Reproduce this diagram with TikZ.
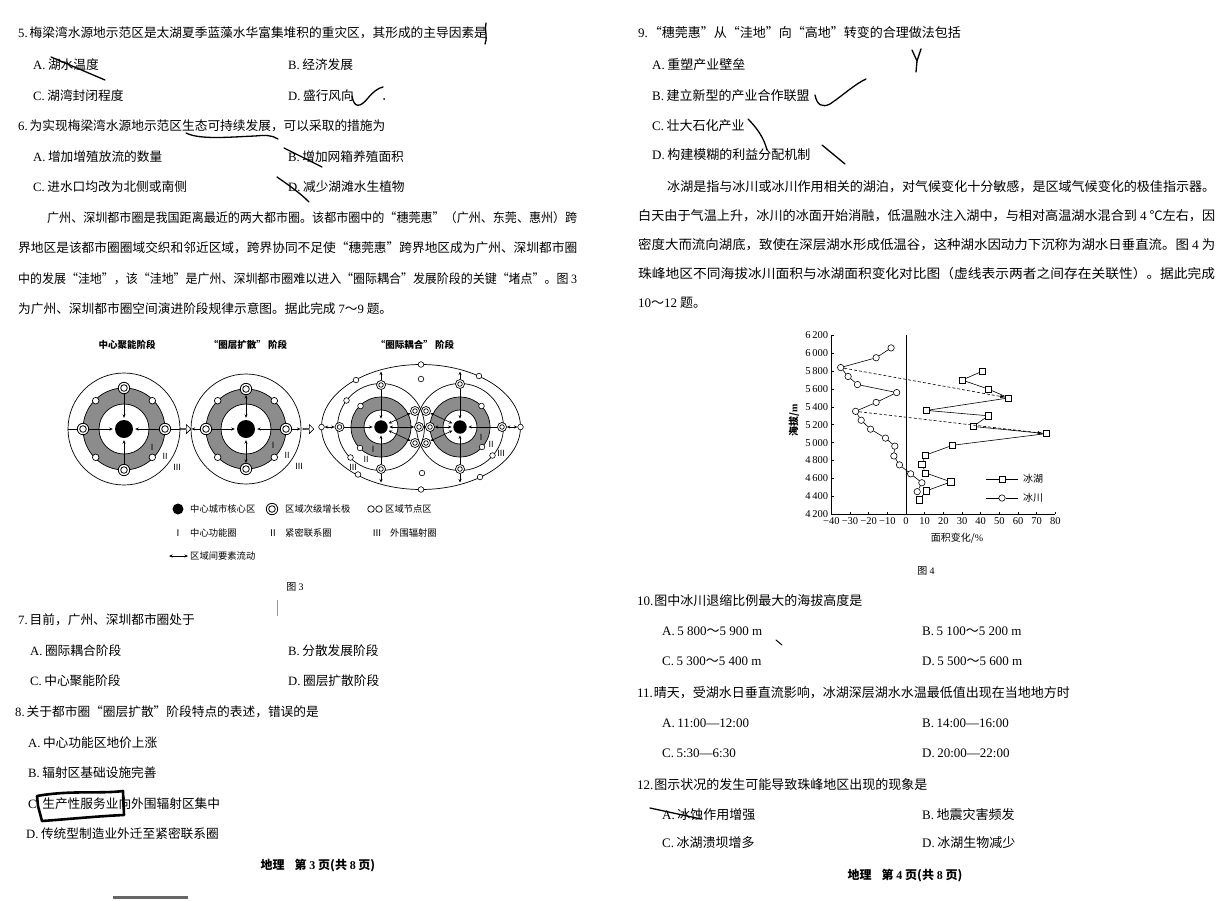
\documentclass[tikz,border=0pt]{standalone}
\usepackage{fontspec}
\usepackage{graphicx}
\setmainfont{Noto Sans CJK SC}
\newfontfamily\lat{Liberation Serif}
\usetikzlibrary{arrows.meta,shapes.arrows}
\newcommand\LL[1]{{\lat #1}}
\newcommand\opt[2]{\LL{#1.}\hspace{2.5pt}#2}
\newcommand\fitw[2]{\resizebox{#1pt}{\height}{#2}}
\begin{document}
\begin{tikzpicture}[x=1pt,y=-1pt,
 txt/.style={anchor=west,inner sep=0pt,font=\fontsize{12.7}{15}\selectfont},
 txr/.style={anchor=west,inner sep=0pt,font=\fontsize{13}{15}\selectfont},
 leg/.style={anchor=west,inner sep=0pt,font=\fontsize{9.3}{11}\selectfont},
 ttl/.style={inner sep=0pt,font=\fontsize{9.5}{11}\selectfont\bfseries},
 rom/.style={inner sep=0pt,font=\fontsize{8.5}{9}\selectfont},
 foot/.style={inner sep=0pt,font=\fontsize{12}{14}\selectfont\bfseries},
 core/.style={circle,fill=black,inner sep=0pt,minimum size=18pt},
 core3/.style={circle,fill=black,inner sep=0pt,minimum size=13.4pt},
 pole/.style={circle,draw,fill=white,inner sep=0pt,minimum size=11.4pt,line width=0.8pt,
   path picture={\draw[line width=0.8pt] (path picture bounding box.center) circle (3.3pt);}},
 pole3/.style={circle,draw,fill=white,inner sep=0pt,minimum size=9pt,line width=0.7pt,
   path picture={\draw[line width=0.7pt] (path picture bounding box.center) circle (2.3pt);}},
 nd/.style={circle,draw,fill=white,inner sep=0pt,minimum size=6.6pt,line width=0.7pt},
 nd3/.style={circle,draw,fill=white,inner sep=0pt,minimum size=5.6pt,line width=0.6pt},
 arr/.style={line width=0.6pt,-{Stealth[length=3.5pt,width=3pt]}},
 darr/.style={line width=0.6pt,{Stealth[length=3.5pt,width=3pt]}-{Stealth[length=3.5pt,width=3pt]}},
 ring/.style={line width=0.7pt},
 ringfill/.style={fill=black!45},
 hol/.style={single arrow,draw,fill=white,line width=0.6pt,minimum height=11pt,minimum width=9pt,single arrow head extend=1.8pt,inner sep=0pt},
 pen/.style={line width=1.3pt,line cap=round,line join=round},
 gm/.style={circle,draw,fill=white,inner sep=0pt,minimum size=6.4pt,line width=0.6pt},
 lm/.style={rectangle,draw,fill=white,inner sep=0pt,minimum size=6.2pt,line width=0.6pt},
 tick/.style={inner sep=0pt,font=\lat\fontsize{10.5}{12}\selectfont},
 clab/.style={inner sep=0pt,font=\fontsize{10}{12}\selectfont}
]
\useasboundingbox[fill=white] (0,0) rectangle (1231,900);

%================ LEFT COLUMN TEXT =================
\node[txt] (q5) at (18,33) {\LL{5.}\hspace{2pt}梅梁湾水源地示范区是太湖夏季蓝藻水华富集堆积的重灾区，其形成的主导因素是};
\node[txt] (q5a) at (33,65) {\opt{A}{湖水温度}};
\node[txt] (q5b) at (288,65) {\opt{B}{经济发展}};
\node[txt] (q5c) at (33,96) {\opt{C}{湖湾封闭程度}};
\node[txt] (q5d) at (288,96) {\opt{D}{盛行风向}};
\node[txt] (q6) at (18,126) {\LL{6.}\hspace{2pt}为实现梅梁湾水源地示范区生态可持续发展，可以采取的措施为};
\node[txt] (q6a) at (33,157) {\opt{A}{增加增殖放流的数量}};
\node[txt] (q6b) at (288,157) {\opt{B}{增加网箱养殖面积}};
\node[txt] (q6c) at (33,187) {\opt{C}{进水口均改为北侧或南侧}};
\node[txt] (q6d) at (288,187) {\opt{D}{减少湖滩水生植物}};
\node[txt] (p1) at (47,218) {\fitw{530}{广州、深圳都市圈是我国距离最近的两大都市圈。该都市圈中的“穗莞惠”（广州、东莞、惠州）跨}};
\node[txt] (p2) at (18,248) {\fitw{559}{界地区是该都市圈圈域交织和邻近区域，跨界协同不足使“穗莞惠”跨界地区成为广州、深圳都市圈}};
\node[txt] (p3) at (18,279) {\fitw{559}{中的发展“洼地”，该“洼地”是广州、深圳都市圈难以进入“圈际耦合”发展阶段的关键“堵点”。图 \LL{3}}};
\node[txt] (p4) at (18,309) {为广州、深圳都市圈空间演进阶段规律示意图。据此完成 \LL{7}～\LL{9} 题。};

%================ FIGURE 3 =================
\node[ttl] (t1) at (127,345) {中心聚能阶段};
\node[ttl] (t2) at (248,345) {“圈层扩散” 阶段};
\node[ttl] (t3) at (415,345) {“圈际耦合” 阶段};

% stage 1
\draw[ring] (124,429) circle (56pt);
\fill[ringfill,even odd rule] (124,429) circle (41pt) circle (25pt);
\draw[ring] (124,429) circle (41pt);
\draw[ring] (124,429) circle (25pt);
\node[core] (c1) at (124,429) {};
\node[pole] (p1t) at (124,388) {};
\node[pole] (p1b) at (124,470) {};
\node[pole] (p1l) at (83,429) {};
\node[pole] (p1r) at (165,429) {};
\node[nd] (n1a) at (95.7,400.7) {};
\node[nd] (n1b) at (152.3,400.7) {};
\node[nd] (n1c) at (95.7,457.3) {};
\node[nd] (n1d) at (152.3,457.3) {};
\coordinate (o1l) at (68,429);
\coordinate (o1r) at (180,429);
\draw[arr,shorten >=2pt] (p1t) -- (c1);
\draw[arr,shorten >=2pt] (p1b) -- (c1);
\draw[arr,shorten >=2pt] (p1l) -- (c1);
\draw[arr,shorten >=2pt] (p1r) -- (c1);
\draw[line width=0.6pt] (o1l) -- (p1l);
\draw[line width=0.6pt] (p1r) -- (o1r);
\node[rom] (r1a) at (152,447) {Ⅰ};
\node[rom] (r1b) at (165,456) {Ⅱ};
\node[rom] (r1c) at (177,467) {Ⅲ};

\node[hol] (ha1) at (185,429) {};

% stage 2
\draw[ring] (246,429) circle (55pt);
\fill[ringfill,even odd rule] (246,429) circle (40pt) circle (25pt);
\draw[ring] (246,429) circle (40pt);
\draw[ring] (246,429) circle (25pt);
\node[core] (c2) at (246,429) {};
\node[pole] (p2t) at (246,389) {};
\node[pole] (p2b) at (246,469) {};
\node[pole] (p2l) at (206,429) {};
\node[pole] (p2r) at (286,429) {};
\node[nd] (n2a) at (217.7,400.7) {};
\node[nd] (n2b) at (274.3,400.7) {};
\node[nd] (n2c) at (217.7,457.3) {};
\node[nd] (n2d) at (274.3,457.3) {};
\coordinate (o2l) at (191.5,429);
\coordinate (o2r) at (300.5,429);
\draw[darr,shorten >=2pt] (p2t) -- (c2);
\draw[darr,shorten >=2pt] (p2b) -- (c2);
\draw[arr,shorten >=2pt] (p2l) -- (c2);
\draw[arr,shorten >=2pt] (p2r) -- (c2);
\draw[arr] (p2l) -- (o2l);
\draw[arr] (p2r) -- (o2r);
\node[rom] (r2a) at (273,445) {Ⅰ};
\node[rom] (r2b) at (287,455) {Ⅱ};
\node[rom] (r2c) at (299,466) {Ⅲ};

\node[hol] (ha2) at (308,429) {};

% stage 3
\draw[ring] (421,427) ellipse [x radius=99.5pt,y radius=62.5pt];
\fill[ringfill,even odd rule] (381,427) circle (30pt) circle (17pt);
\fill[ringfill,even odd rule] (460,427) circle (30pt) circle (17pt);
\draw[ring] (381,427) circle (30pt);
\draw[ring] (381,427) circle (17pt);
\draw[ring] (460,427) circle (30pt);
\draw[ring] (460,427) circle (17pt);
\draw[ring] (381,427) circle (43.5pt);
\draw[ring] (460,427) circle (43.5pt);
\node[core3] (c3a) at (381,427) {};
\node[core3] (c3b) at (460,427) {};
\node[pole3] (p3at) at (381,385) {};
\node[pole3] (p3ab) at (381,469) {};
\node[pole3] (p3al) at (339.5,427) {};
\node[pole3] (p3bt) at (460,384) {};
\node[pole3] (p3bb) at (460,469) {};
\node[pole3] (p3br) at (502,427) {};
\node[pole3] (k1) at (415,411) {};
\node[pole3] (k2) at (426,411) {};
\node[pole3] (k3) at (419,427) {};
\node[pole3] (k4) at (430,427) {};
\node[pole3] (k5) at (415,443) {};
\node[pole3] (k6) at (426,443) {};
\node[nd3] (m1) at (321.5,427) {};
\node[nd3] (m2) at (421,364.5) {};
\node[nd3] (m3) at (520.5,427) {};
\node[nd3] (m4) at (421,489.5) {};
\node[nd3] (m5) at (356,380) {};
\node[nd3] (m6) at (479,376) {};
\node[nd3] (m7) at (358,474.5) {};
\node[nd3] (m8) at (480,477) {};
\node[nd3] (m9) at (421,379) {};
\node[nd3] (m10) at (422,473) {};
\node[nd3] (m11) at (346.5,400.5) {};
\node[nd3] (m12) at (350.5,457.5) {};
\node[nd3] (m13) at (492.5,455.5) {};
\node[nd3] (m14) at (360.5,406) {};
\node[nd3] (m15) at (360,448) {};
\node[nd3] (m16) at (481.5,406) {};
\node[nd3] (m17) at (482,447) {};
\coordinate (e1) at (381,371.5);
\coordinate (e2) at (381,482.5);
\coordinate (e3) at (460,371.5);
\coordinate (e4) at (460,482.5);
% left core flows
\draw[darr] (m1) -- (p3al);
\draw[arr,shorten >=1.5pt] (p3al) -- (c3a);
\draw[arr,shorten >=1.5pt] (p3at) -- (c3a);
\draw[arr] (p3at) -- (e1);
\draw[arr,shorten >=1.5pt] (p3ab) -- (c3a);
\draw[arr] (p3ab) -- (e2);
\draw[darr,shorten <=1.5pt] (c3a) -- (k3);
\draw[darr,shorten <=1.5pt] (c3a) -- (k1);
\draw[darr,shorten <=1.5pt] (c3a) -- (k5);
% right core flows
\draw[darr] (m3) -- (p3br);
\draw[arr,shorten >=1.5pt] (p3br) -- (c3b);
\draw[arr,shorten >=1.5pt] (p3bt) -- (c3b);
\draw[arr] (p3bt) -- (e3);
\draw[arr,shorten >=1.5pt] (p3bb) -- (c3b);
\draw[arr] (p3bb) -- (e4);
\draw[darr,shorten <=1.5pt] (c3b) -- (k4);
\draw[darr,shorten <=1.5pt] (c3b) -- (k2);
\draw[darr,shorten <=1.5pt] (c3b) -- (k6);
\node[rom] (r3a) at (373,449) {Ⅰ};
\node[rom] (r3b) at (366,459) {Ⅱ};
\node[rom] (r3c) at (353,467) {Ⅲ};
\node[rom] (r3d) at (481,437) {Ⅰ};
\node[rom] (r3e) at (491,444) {Ⅱ};
\node[rom] (r3f) at (501,453) {Ⅲ};

% legend
\node[circle,fill=black,inner sep=0pt,minimum size=11pt] (lg1) at (178,509) {};
\node[leg] (lg1t) at (190,509) {中心城市核心区};
\node[pole] (lg2) at (272,509) {};
\node[leg] (lg2t) at (285,509) {区域次级增长极};
\node[nd] (lg3a) at (371,509) {};
\node[nd] (lg3b) at (379,509) {};
\node[leg] (lg3t) at (385,509) {区域节点区};
\node[leg,anchor=center] (lg4) at (178,533) {Ⅰ};
\node[leg] (lg4t) at (190,533) {中心功能圈};
\node[leg,anchor=center] (lg5) at (273,533) {Ⅱ};
\node[leg] (lg5t) at (285,533) {紧密联系圈};
\node[leg,anchor=center] (lg6) at (377,533) {Ⅲ};
\node[leg] (lg6t) at (390,533) {外围辐射圈};
\coordinate (lg7a) at (169,556);
\coordinate (lg7b) at (188,556);
\draw[darr] (lg7a) -- (lg7b);
\node[leg] (lg7t) at (190,556) {区域间要素流动};
\node[clab] (f3) at (295,587) {图 \LL{3}};

%================ LEFT LOWER QUESTIONS =================
\node[txt] (q7) at (18,620) {\LL{7.}\hspace{2pt}目前，广州、深圳都市圈处于};
\node[txt] (q7a) at (30,651) {\opt{A}{圈际耦合阶段}};
\node[txt] (q7b) at (288,651) {\opt{B}{分散发展阶段}};
\node[txt] (q7c) at (30,681) {\opt{C}{中心聚能阶段}};
\node[txt] (q7d) at (288,681) {\opt{D}{圈层扩散阶段}};
\node[txt] (q8) at (15,712) {\LL{8.}\hspace{2pt}关于都市圈“圈层扩散”阶段特点的表述，错误的是};
\node[txt] (q8a) at (28,743) {\opt{A}{中心功能区地价上涨}};
\node[txt] (q8b) at (28,773) {\opt{B}{辐射区基础设施完善}};
\node[txt] (q8c) at (28,804) {\opt{C}{生产性服务业向外围辐射区集中}};
\node[txt] (q8d) at (26,834) {\opt{D}{传统型制造业外迁至紧密联系圈}};
\node[foot] (ft3) at (318,866) {地理\hspace{10pt}第 \LL{\bfseries 3} 页(共 \LL{\bfseries 8} 页)};

%================ RIGHT COLUMN TEXT =================
\node[txr] (q9) at (638,33) {\LL{9.}\hspace{1pt}“穗莞惠”从“洼地”向“高地”转变的合理做法包括};
\node[txr] (q9a) at (652,65) {\opt{A}{重塑产业壁垒}};
\node[txr] (q9b) at (652,96) {\opt{B}{建立新型的产业合作联盟}};
\node[txr] (q9c) at (652,126) {\opt{C}{壮大石化产业}};
\node[txr] (q9d) at (652,155) {\opt{D}{构建模糊的利益分配机制}};
\node[txr] (r1) at (667,187) {\fitw{548}{冰湖是指与冰川或冰川作用相关的湖泊，对气候变化十分敏感，是区域气候变化的极佳指示器。}};
\node[txr] (r2) at (638,216) {\fitw{577}{白天由于气温上升，冰川的冰面开始消融，低温融水注入湖中，与相对高温湖水混合到 \LL{4} ℃左右，因}};
\node[txr] (r3) at (638,245) {\fitw{577}{密度大而流向湖底，致使在深层湖水形成低温谷，这种湖水因动力下沉称为湖水日垂直流。图 \LL{4} 为}};
\node[txr] (r4) at (638,274) {\fitw{577}{珠峰地区不同海拔冰川面积与冰湖面积变化对比图（虚线表示两者之间存在关联性）。据此完成}};
\node[txr] (r5) at (638,303) {\LL{10}～\LL{12} 题。};

%================ FIGURE 4 =================
\begin{scope}[shift={(906,514)},x=1.867pt,y=0.0893pt]
\draw[line width=0.7pt] (-40,2000) -- (-40,0) -- (80,0);
\draw[line width=0.6pt] (0,0) -- (0,2000);
\foreach \e in {200,400,...,2000} \draw[line width=0.5pt] (-40,\e) -- ++(2.5pt,0pt);
\foreach \p in {-30,-20,...,80} \draw[line width=0.5pt] (\p,0) -- ++(0pt,2.5pt);
\foreach \e/\lab [count=\i] in {0/4\,200,200/4\,400,400/4\,600,600/4\,800,800/5\,000,1000/5\,200,1200/5\,400,1400/5\,600,1600/5\,800,1800/6\,000,2000/6\,200}
  \node[tick,anchor=east] (yl\i) at ([xshift=-3pt]-40,\e) {\lab};
\foreach \p/\lab [count=\i] in {-40/−40,-30/−30,-20/−20,-10/−10,0/0,10/10,20/20,30/30,40/40,50/50,60/60,70/70,80/80}
  \node[tick,anchor=north] (xl\i) at ([yshift=-3pt]\p,0) {\lab};
\foreach \p/\e [count=\i] in {-8/1860,-16/1750,-35/1640,-31/1540,-26/1450,-5/1360,-16/1250,-27/1150,-24/1050,-19/950,-11/850,-6/760,-6.5/650,-3.5/550,2.5/450,8.5/350,6/250}
  \node[gm] (g\i) at (\p,\e) {};
\foreach \p/\e [count=\i] in {41/1600,30/1500,44/1400,55/1300,11/1160,44/1100,36/980,75/900,25/770,10.5/660,8.5/560,10.5/460,24/360,11/260,7/160}
  \node[lm] (l\i) at (\p,\e) {};
\draw[line width=0.6pt] (g1) -- (g2) -- (g3) -- (g4) -- (g5) -- (g6) -- (g7) -- (g8) -- (g9) -- (g10) -- (g11) -- (g12) -- (g13) -- (g14) -- (g15) -- (g16) -- (g17);
\draw[line width=0.6pt] (l1) -- (l2) -- (l3) -- (l4) -- (l5) -- (l6) -- (l7) -- (l8) -- (l9) -- (l10) -- (l11) -- (l12) -- (l13) -- (l14) -- (l15);
\draw[line width=0.6pt,dash pattern=on 3pt off 2pt,-{Latex[length=5pt,width=3.4pt]}] (g3) -- (l4);
\draw[line width=0.6pt,dash pattern=on 3pt off 2pt,-{Latex[length=5pt,width=3.4pt]}] (g8) -- (l8);
\end{scope}
\coordinate (la1) at (986,479);
\coordinate (la2) at (1018,479);
\node[lm] (lk1) at (1002,479) {};
\draw[line width=0.6pt] (la1) -- (lk1) -- (la2);
\node[clab,anchor=west] (lt1) at (1023,479) {冰湖};
\coordinate (lb1) at (986,498);
\coordinate (lb2) at (1018,498);
\node[gm] (lk2) at (1002,498) {};
\draw[line width=0.6pt] (lb1) -- (lk2) -- (lb2);
\node[clab,anchor=west] (lt2) at (1023,498) {冰川};
\node[clab,rotate=90,font=\fontsize{10}{12}\selectfont\bfseries] (yax) at (794,420) {海拔/\LL{m}};
\node[clab] (xax) at (957,538) {面积变化/\LL{\%}};
\node[clab] (f4) at (926,571) {图 \LL{4}};

%================ RIGHT LOWER QUESTIONS =================
\node[txr] (q10) at (637,601) {\LL{10.}\hspace{1pt}图中冰川退缩比例最大的海拔高度是};
\node[txr] (q10a) at (662,631) {\opt{A}{\LL{5 800}～\LL{5 900 m}}};
\node[txr] (q10b) at (922,631) {\opt{B}{\LL{5 100}～\LL{5 200 m}}};
\node[txr] (q10c) at (662,661) {\opt{C}{\LL{5 300}～\LL{5 400 m}}};
\node[txr] (q10d) at (922,661) {\opt{D}{\LL{5 500}～\LL{5 600 m}}};
\node[txr] (q11) at (637,693) {\LL{11.}\hspace{1pt}晴天，受湖水日垂直流影响，冰湖深层湖水水温最低值出现在当地地方时};
\node[txr] (q11a) at (662,723) {\opt{A}{\LL{11:00—12:00}}};
\node[txr] (q11b) at (922,723) {\opt{B}{\LL{14:00—16:00}}};
\node[txr] (q11c) at (662,753) {\opt{C}{\LL{5:30—6:30}}};
\node[txr] (q11d) at (922,753) {\opt{D}{\LL{20:00—22:00}}};
\node[txr] (q12) at (637,785) {\LL{12.}\hspace{1pt}图示状况的发生可能导致珠峰地区出现的现象是};
\node[txr] (q12a) at (662,815) {\opt{A}{冰蚀作用增强}};
\node[txr] (q12b) at (922,815) {\opt{B}{地震灾害频发}};
\node[txr] (q12c) at (662,843) {\opt{C}{冰湖溃坝增多}};
\node[txr] (q12d) at (922,843) {\opt{D}{冰湖生物减少}};
\node[foot] (ft4) at (905,876) {地理\hspace{10pt}第 \LL{\bfseries 4} 页(共 \LL{\bfseries 8} 页)};

%================ PEN MARKS =================
\draw[pen] (486,23) .. controls (484,30) and (488,36) .. (485,44);
\draw[pen] (51,57) -- (105,80);
\draw[pen] (352,96) .. controls (354,108) and (360,108) .. (368,98) .. controls (373,92) and (378,88) .. (383,87);
\fill (384,99) circle (1pt);
\draw[pen] (186,133) .. controls (200,140) and (230,137) .. (255,136) .. controls (265,135) and (272,135) .. (278,139);
\draw[pen] (284,148) -- (322,167);
\draw[pen] (277,177) .. controls (290,186) and (300,193) .. (309,202);
\draw[line width=2.6pt,line join=round,line cap=round] (37,796) .. controls (70,790) and (100,794) .. (123,791) -- (124,815) .. controls (100,816) and (70,819) .. (42,821) -- (38,806) -- cycle;
\draw[pen] (912,50) -- (917,61) -- (921,49);
\draw[pen] (917,61) -- (916,72);
\draw[pen] (815,95) .. controls (817,105) and (822,108) .. (830,104) .. controls (842,96) and (855,84) .. (866,79);
\draw[pen] (748,119) .. controls (757,128) and (764,138) .. (767,150);
\draw[pen] (822,145) -- (845,164);
\draw[pen,line width=1pt] (776,640) -- (782,645);
\draw[pen] (650,808) -- (701,819);
\draw[black!40,line width=0.8pt] (277,600) -- (277,616);
\fill[black!60] (113,896) rectangle (188,899);
\end{tikzpicture}
\end{document}
